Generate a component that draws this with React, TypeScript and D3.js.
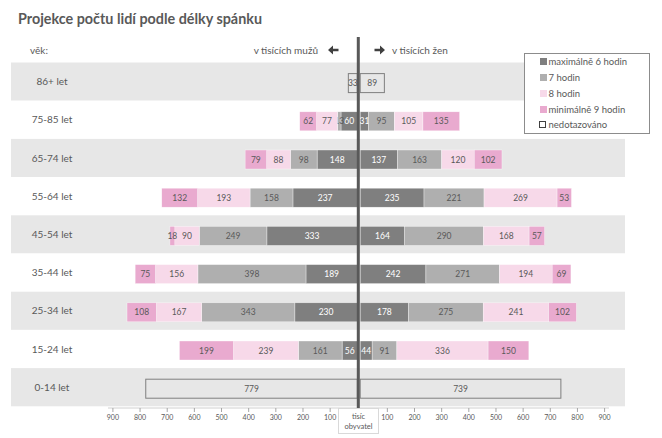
import React from "react";
import * as d3 from "d3";

const ageGroups = ["86+ let", "75-85 let", "65-74 let", "55-64 let", "45-54 let", "35-44 let", "25-34 let", "15-24 let", "0-14 let"];
const seriesNames = ["maximálně 6 hodin", "7 hodin", "8 hodin", "minimálně 9 hodin", "nedotazováno"];
const menMax6 = [0, 60, 148, 237, 333, 189, 230, 56, 0];
const men7 = [0, 13, 98, 158, 249, 398, 343, 161, 0];
const men8 = [0, 77, 88, 193, 90, 156, 167, 239, 0];
const menMin9 = [0, 62, 79, 132, 18, 75, 108, 199, 0];
const menNA = [33, 0, 0, 0, 0, 0, 0, 0, 779];
const womenMax6 = [0, 31, 137, 235, 164, 242, 178, 44, 0];
const women7 = [0, 95, 163, 221, 290, 271, 275, 91, 0];
const women8 = [0, 105, 120, 269, 168, 194, 241, 336, 0];
const womenMin9 = [0, 135, 102, 53, 57, 69, 102, 150, 0];
const womenNA = [89, 0, 0, 0, 0, 0, 0, 0, 739];
const tickValues = [100, 200, 300, 400, 500, 600, 700, 800, 900];

const colors = ["#7f7f7f", "#afafaf", "#f7d9e9", "#e9aacf", "none"];
const FONT = "Lato, 'Open Sans', sans-serif";
const TXT = "#595959";

const menSeries = [menMax6, men7, men8, menMin9, menNA];
const womenSeries = [womenMax6, women7, women8, womenMin9, womenNA];

export default function App() {
  const W = 662, H = 438;
  const xL = d3.scaleLinear().domain([0, 900]).range([357.3, 357.3 - 244.4]);
  const xR = d3.scaleLinear().domain([0, 900]).range([360.2, 360.2 + 244.4]);
  const y = d3.scaleBand<string>().domain(ageGroups).range([62.5, 406.3]).padding(0);
  const bw = y.bandwidth();
  const barH = 19;
  const barOff = 1.5;

  const segs: any[] = [];
  const build = (series: number[][], side: "L" | "R") => {
    ageGroups.forEach((g, i) => {
      let acc = 0;
      series.forEach((arr, s) => {
        const v = arr[i];
        if (!v) return;
        const a = acc, b = acc + v;
        acc = b;
        const scale = side === "L" ? xL : xR;
        const x0 = Math.min(scale(a), scale(b));
        const x1 = Math.max(scale(a), scale(b));
        const yc = (y(g) as number) + bw / 2 + barOff;
        segs.push({ key: `${side}-${i}-${s}`, x0, x1, yc, v, s });
      });
    });
  };
  build(menSeries, "L");
  build(womenSeries, "R");

  const arrow = (xTip: number, yc: number, dir: number) => {
    const hl = 5, hw = 4.5, sl = 5.5, st = 1.3;
    const p = [
      [xTip, yc],
      [xTip - dir * hl, yc - hw],
      [xTip - dir * hl, yc - st],
      [xTip - dir * (hl + sl), yc - st],
      [xTip - dir * (hl + sl), yc + st],
      [xTip - dir * hl, yc + st],
      [xTip - dir * hl, yc + hw],
    ];
    return "M" + p.map((q) => q.join(",")).join("L") + "Z";
  };

  const legendY = [62, 78, 94, 110, 125];

  return (
    <svg width={W} height={H} style={{ display: "block", position: "absolute", left: 0, top: 0 }} fontFamily={FONT}>
      <rect x={0} y={0} width={W} height={H} fill="#ffffff" />
      <text x={18} y={24} fontSize={16} fontWeight="bold" fill={TXT} textLength={244} lengthAdjust="spacingAndGlyphs">Projekce počtu lidí podle délky spánku</text>

      {ageGroups.map((g, i) => (
        <rect key={g} x={11} y={y(g)} width={614} height={bw} fill={i % 2 === 0 ? "#e7e7e7" : "#ffffff"} />
      ))}
      {ageGroups.map((g) => (
        <text key={"l" + g} x={52} y={(y(g) as number) + bw / 2 + 3.5} textAnchor="middle" fontSize={10} fill={TXT}>{g}</text>
      ))}

      <text x={30} y={53.5} fontSize={10} fill={TXT}>věk:</text>
      <text x={318} y={53.5} fontSize={10} fill={TXT} textAnchor="end">v tisících mužů</text>
      <path d={arrow(328, 50, -1)} fill="#404040" />
      <path d={arrow(385, 50, 1)} fill="#404040" />
      <text x={392} y={53.5} fontSize={10} fill={TXT}>v tisících žen</text>

      {segs.map((d) => (
        <g key={d.key}>
          {d.s === 4 ? (
            <rect x={d.x0} y={d.yc - barH / 2} width={d.x1 - d.x0} height={barH} fill="none" stroke="#7f7f7f" strokeWidth={1} />
          ) : (
            <rect x={d.x0} y={d.yc - barH / 2} width={d.x1 - d.x0} height={barH} fill={colors[d.s]} stroke="#ffffff" strokeWidth={0.5} strokeOpacity={0.7} />
          )}
          <text x={(d.x0 + d.x1) / 2} y={d.yc + 3} textAnchor="middle" fontSize={8.5} fill={d.s === 0 ? "#ffffff" : TXT}>{d.v}</text>
        </g>
      ))}

      <line x1={108} x2={609} y1={408} y2={408} stroke="#d0d0d0" strokeWidth={1} />
      {tickValues.map((t) => (
        <g key={"t" + t}>
          <line x1={xL(t)} x2={xL(t)} y1={408} y2={412} stroke="#a6a6a6" />
          <text x={xL(t)} y={420} textAnchor="middle" fontSize={7} fill={TXT}>{t}</text>
          <line x1={xR(t)} x2={xR(t)} y1={408} y2={412} stroke="#a6a6a6" />
          <text x={xR(t)} y={420} textAnchor="middle" fontSize={7} fill={TXT}>{t}</text>
        </g>
      ))}

      <line x1={358.3} x2={358.3} y1={37} y2={412} stroke="#595959" strokeWidth={3} />

      <rect x={338.5} y={408.5} width={40} height={25} fill="#ffffff" stroke="#d9d9d9" />
      <text x={358.5} y={418.5} textAnchor="middle" fontSize={7.5} fill={TXT}>tisíc</text>
      <text x={358.5} y={428.5} textAnchor="middle" fontSize={7.5} fill={TXT}>obyvatel</text>

      <rect x={524.5} y={53.5} width={125} height={80} fill="#ffffff" stroke="#8c8c8c" />
      {seriesNames.map((n, i) => (
        <g key={n}>
          {i === 4 ? (
            <rect x={539.5} y={legendY[i] - 3.5} width={6} height={6} fill="#ffffff" stroke="#404040" />
          ) : (
            <rect x={540} y={legendY[i] - 4} width={7} height={7} fill={colors[i]} />
          )}
          <text x={548.5} y={legendY[i] + 3} fontSize={9.5} fill={TXT}>{n}</text>
        </g>
      ))}
    </svg>
  );
}
